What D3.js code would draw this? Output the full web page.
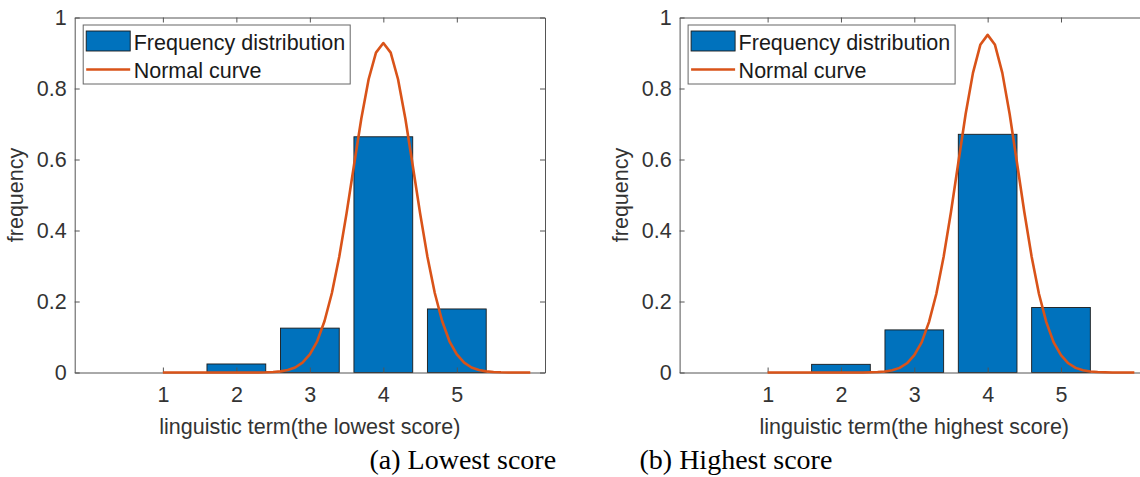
<!DOCTYPE html>
<html>
<head>
<meta charset="utf-8">
<script src="https://cdn.jsdelivr.net/npm/d3@7"></script>
<style>
  body { margin: 0; background: #fff; }
  svg { display: block; }
  .tick text { font-family: "Liberation Sans", Arial, sans-serif; font-size: 21.5px; fill: #333; }
  .axis path, .axis line { stroke: #555; }
  .lbl { font-family: "Liberation Sans", Arial, sans-serif; font-size: 21.5px; fill: #333; }
  .cap { font-family: "Liberation Serif", "Times New Roman", serif; font-size: 28px; fill: #000; }
</style>
</head>
<body>
<svg id="chart" width="1140" height="477"></svg>
<script>
// linguistic terms on the x axis
var terms = [1, 2, 3, 4, 5];
var yTicks = [0, 0.2, 0.4, 0.6, 0.8, 1];

// bar heights
var lowestFreq  = [0, 0.024, 0.125, 0.664, 0.179];
var highestFreq = [0, 0.023, 0.120, 0.671, 0.183];

// normal curve sample points (x = 1 .. 6, step 0.1)
var curveX = [1.0, 1.1, 1.2, 1.3, 1.4, 1.5, 1.6, 1.7, 1.8, 1.9,
  2.0, 2.1, 2.2, 2.3, 2.4, 2.5, 2.6, 2.7, 2.8, 2.9,
  3.0, 3.1, 3.2, 3.3, 3.4, 3.5, 3.6, 3.7, 3.8, 3.9,
  4.0, 4.1, 4.2, 4.3, 4.4, 4.5, 4.6, 4.7, 4.8, 4.9,
  5.0, 5.1, 5.2, 5.3, 5.4, 5.5, 5.6, 5.7, 5.8, 5.9, 6.0];

var lowestCurve = [0, 0, 0, 0, 0, 0, 0, 0, 0, 0,
  0, 0, 0.0001, 0.0002, 0.0005, 0.0014, 0.0031, 0.0069, 0.014, 0.028,
  0.051, 0.088, 0.145, 0.224, 0.326, 0.449, 0.583, 0.715, 0.826, 0.901,
  0.928, 0.901, 0.826, 0.715, 0.583, 0.449, 0.326, 0.224, 0.145, 0.088,
  0.051, 0.028, 0.014, 0.0069, 0.0031, 0.0014, 0.0005, 0.0002, 0.0001, 0, 0];

var highestCurve = [0, 0, 0, 0, 0, 0, 0, 0, 0, 0,
  0, 0, 0.0001, 0.0002, 0.0005, 0.0012, 0.0028, 0.0062, 0.013, 0.026,
  0.049, 0.085, 0.142, 0.221, 0.326, 0.452, 0.591, 0.728, 0.844, 0.923,
  0.951, 0.923, 0.844, 0.728, 0.591, 0.452, 0.326, 0.221, 0.142, 0.085,
  0.049, 0.026, 0.013, 0.0062, 0.0028, 0.0012, 0.0005, 0.0002, 0.0001, 0, 0];

var legendLabels = ["Frequency distribution", "Normal curve"];

var panels = [
  { left: 74.7, right: 545, bars: lowestFreq, curve: lowestCurve,
    xlabel: "linguistic term(the lowest score)", caption: "(a) Lowest score", capX: 369.5 },
  { left: 679.6, right: 1149, bars: highestFreq, curve: highestCurve,
    xlabel: "linguistic term(the highest score)", caption: "(b) Highest score", capX: 639.5 }
];

var plotTop = 17.5, plotBottom = 372.5;
var barColor = "#0072BD", curveColor = "#D95319";

var svg = d3.select("#chart");

panels.forEach(function(p) {
  var x = d3.scaleLinear().domain([-0.2, 6.2]).range([p.left, p.right]);
  var y = d3.scaleLinear().domain([0, 1]).range([plotBottom, plotTop]);
  var g = svg.append("g");

  // bars
  g.selectAll("rect.bar")
    .data(p.bars)
    .enter()
    .append("rect")
    .attr("class", "bar")
    .attr("x", function(d, i) { return x(terms[i] - 0.4); })
    .attr("width", function(d, i) { return x(terms[i] + 0.4) - x(terms[i] - 0.4); })
    .attr("y", function(d) { return y(d); })
    .attr("height", function(d) { return y(0) - y(d); })
    .attr("fill", barColor)
    .attr("stroke", "#1a1a1a")
    .attr("stroke-width", 0.9)
    .style("display", function(d) { return d > 0 ? null : "none"; });

  // axes (ticks inward, box on)
  g.append("g").attr("class", "axis")
    .attr("transform", "translate(0," + plotBottom + ")")
    .call(d3.axisBottom(x).tickValues(terms).tickSizeInner(-5).tickSizeOuter(0).tickPadding(14).tickFormat(d3.format("d")));
  g.append("g").attr("class", "axis")
    .attr("transform", "translate(0," + plotTop + ")")
    .call(d3.axisTop(x).tickValues(terms).tickSizeInner(-5).tickSizeOuter(0).tickFormat(""));
  g.append("g").attr("class", "axis")
    .attr("transform", "translate(" + p.left + ",0)")
    .call(d3.axisLeft(y).tickValues(yTicks).tickSizeInner(-5).tickSizeOuter(0).tickPadding(8).tickFormat(d3.format("~g")));
  g.append("g").attr("class", "axis")
    .attr("transform", "translate(" + p.right + ",0)")
    .call(d3.axisRight(y).tickValues(yTicks).tickSizeInner(-5).tickSizeOuter(0).tickFormat(""));

  // normal curve
  var line = d3.line()
    .x(function(d, i) { return x(curveX[i]); })
    .y(function(d) { return y(d); });
  g.append("path")
    .datum(p.curve)
    .attr("d", line)
    .attr("fill", "none")
    .attr("stroke", curveColor)
    .attr("stroke-width", 2.6)
    .attr("stroke-linejoin", "round");

  // axis labels
  g.append("text").attr("class", "lbl")
    .attr("x", (p.left + p.right) / 2).attr("y", 434)
    .attr("text-anchor", "middle")
    .text(p.xlabel);
  g.append("text").attr("class", "lbl")
    .attr("transform", "translate(" + (p.left - 51.7) + "," + ((plotTop + plotBottom) / 2) + ") rotate(-90)")
    .attr("text-anchor", "middle")
    .text("frequency");

  // legend
  var lg = g.append("g").attr("transform", "translate(" + (p.left + 8.5) + ",25)");
  lg.append("rect")
    .attr("width", 267).attr("height", 59)
    .attr("fill", "#fff").attr("stroke", "#666").attr("stroke-width", 1);
  lg.append("rect")
    .attr("x", 3).attr("y", 6).attr("width", 44).attr("height", 20)
    .attr("fill", barColor).attr("stroke", "#1a1a1a").attr("stroke-width", 0.9);
  lg.append("line")
    .attr("x1", 3).attr("x2", 47).attr("y1", 44.5).attr("y2", 44.5)
    .attr("stroke", curveColor).attr("stroke-width", 2.6);
  lg.selectAll("text.leg")
    .data(legendLabels)
    .enter()
    .append("text")
    .attr("class", "lbl leg")
    .attr("x", 50.5)
    .attr("y", function(d, i) { return 24.5 + i * 28; })
    .style("fill", "#1a1a1a")
    .text(function(d) { return d; });

  // sub-figure caption
  svg.append("text").attr("class", "cap")
    .attr("x", p.capX).attr("y", 469)
    .text(p.caption);
});
</script>
</body>
</html>
